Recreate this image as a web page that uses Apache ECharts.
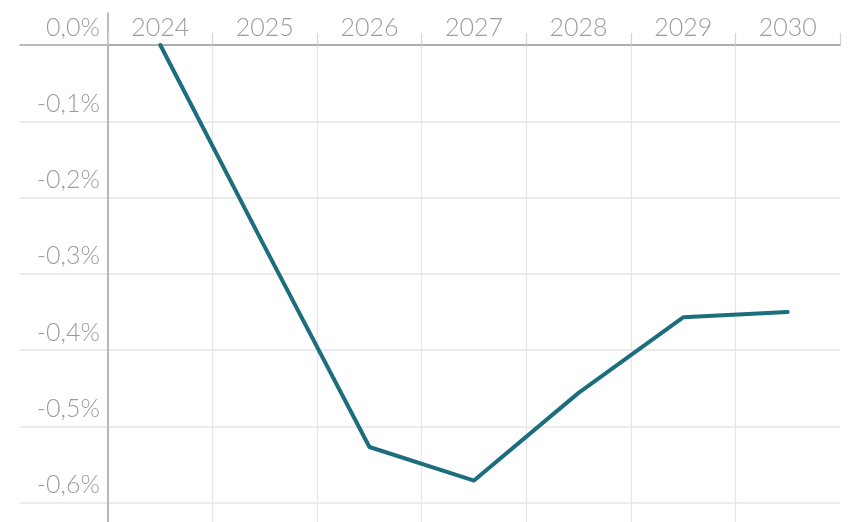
<!DOCTYPE html>
<html>
<head>
<meta charset="utf-8">
<script src="https://cdn.jsdelivr.net/npm/echarts@6/dist/echarts.min.js"></script>
<style>html,body{margin:0;padding:0;background:#fff}#c{width:851px;height:522px}</style>
</head>
<body>
<div id="c"></div>
<script>
const years = ['2024', '2025', '2026', '2027', '2028', '2029', '2030'];
const values = [0, -0.265, -0.527, -0.571, -0.456, -0.357, -0.35];
const yMin = -0.7;
const yMax = 0;
const yStep = 0.1;

const fmt = v => v.toFixed(1).replace('-0.0', '0.0').replace('.', ',') + '%';
const labelFont = { fontFamily: 'Lato', fontWeight: 300, fontSize: 25, color: '#9c9c9c' };
const noBounds = { outerBoundsMode: 'none', containLabel: false };

const chart = echarts.init(document.getElementById('c'), null, { renderer: 'canvas' });
chart.setOption({
  animation: false,
  backgroundColor: '#fff',
  grid: [
    Object.assign({ left: 20, right: 11, top: 45, bottom: -57 }, noBounds),
    Object.assign({ left: 108, right: 11, top: 45, bottom: -57 }, noBounds),
    Object.assign({ left: 108, right: 11, top: 45, bottom: -57 }, noBounds),
    Object.assign({ left: 108, right: 11, top: 13, height: 32 }, noBounds)
  ],
  xAxis: [
    { gridIndex: 0, type: 'value', position: 'top', min: 0, max: 1,
      axisLine: { show: true, onZero: false, lineStyle: { color: '#ababab', width: 1.6 } },
      axisTick: { show: false }, axisLabel: { show: false }, splitLine: { show: false } },
    { gridIndex: 1, type: 'category', data: years, boundaryGap: true, position: 'top',
      axisLine: { show: false }, axisTick: { show: false }, axisLabel: { show: false },
      splitLine: { show: true, showMaxLine: false, lineStyle: { color: '#e6e6e6', width: 1.3 } } },
    { gridIndex: 2, type: 'category', data: years, boundaryGap: true, position: 'top',
      axisLine: { show: true, onZero: false, lineStyle: { color: '#ababab', width: 1.6 } },
      axisTick: { show: true, length: 12, lineStyle: { color: '#d4d4d4', width: 1.3 } },
      axisLabel: Object.assign({ margin: 5 }, labelFont),
      splitLine: { show: false } },
    { gridIndex: 3, type: 'value', show: false, min: 0, max: 1 }
  ],
  yAxis: [
    { gridIndex: 0, type: 'value', min: yMin, max: yMax, interval: yStep,
      axisLine: { show: false }, axisTick: { show: false }, axisLabel: { show: false },
      splitLine: { show: true, lineStyle: { color: '#e4e4e4', width: 1.5 } } },
    { gridIndex: 1, type: 'value', min: yMin, max: yMax, interval: yStep, show: false,
      splitLine: { show: false } },
    { gridIndex: 2, type: 'value', min: yMin, max: yMax, interval: yStep,
      axisLine: { show: true, onZero: false, lineStyle: { color: '#ababab', width: 1.6 } },
      axisTick: { show: false },
      splitLine: { show: false },
      axisLabel: Object.assign({ margin: 8, verticalAlign: 'bottom',
        padding: [0, 0, 5, 0], formatter: fmt }, labelFont) },
    { gridIndex: 3, type: 'value', min: 0, max: 1,
      axisLine: { show: true, onZero: false, lineStyle: { color: '#ababab', width: 1.6 } },
      axisTick: { show: false }, axisLabel: { show: false }, splitLine: { show: false } }
  ],
  series: [{
    type: 'line',
    xAxisIndex: 2,
    yAxisIndex: 2,
    data: values,
    showSymbol: false,
    symbol: 'none',
    lineStyle: { color: '#1c6e7c', width: 4, cap: 'round', join: 'round' },
    z: 10
  }]
});
</script>
</body>
</html>
